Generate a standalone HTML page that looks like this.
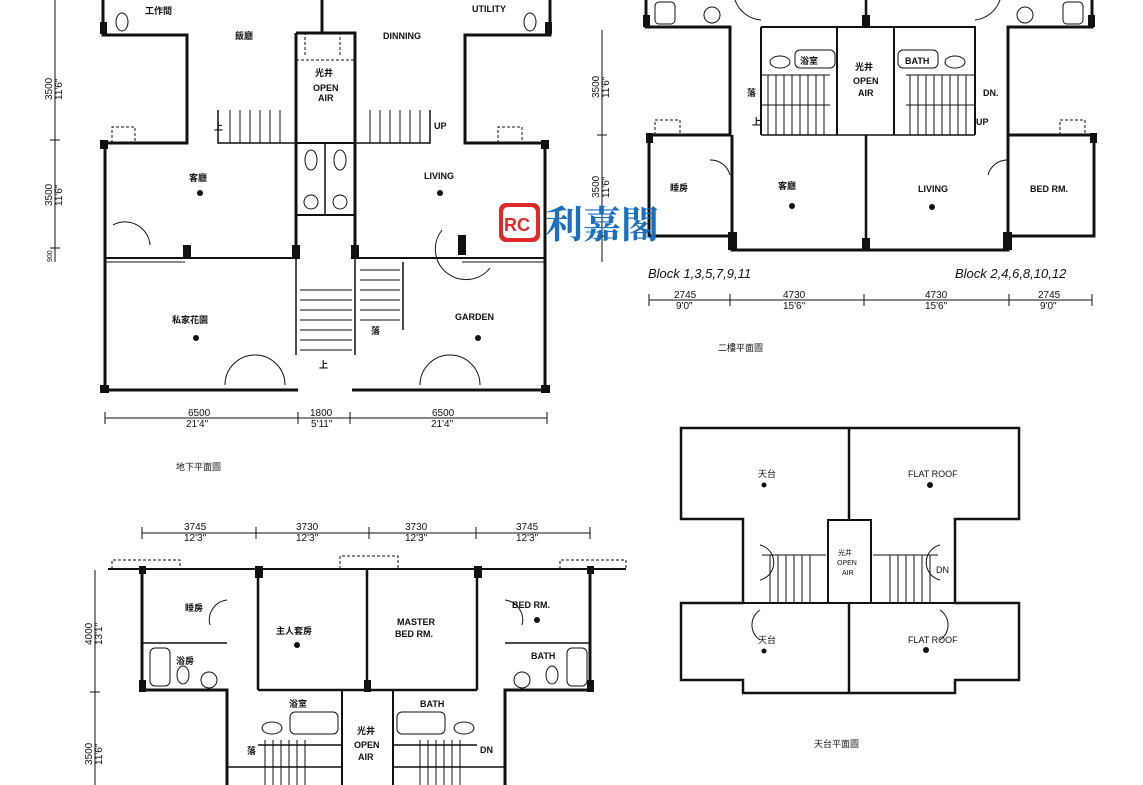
<!DOCTYPE html>
<html><head><meta charset="utf-8"><style>
html,body{margin:0;padding:0;background:#fff;}
svg{display:block;}
text{font-family:"Liberation Sans","Noto Sans CJK TC",sans-serif;fill:#111;}
.l{font-size:9px;}
.d{font-size:10px;}
</style></head><body>
<svg width="1143" height="785" viewBox="0 0 1143 785" xmlns="http://www.w3.org/2000/svg">
<rect width="1143" height="785" fill="#fff"/>
<g stroke="#111" fill="none" stroke-width="3">
<path d="M103 0 V35 H187 V143 H105 V390 H298"/>
<path d="M550 0 V35 H465 V143 H545 V390 H352"/>
<path d="M296 33 H355 V258 M296 33 V258"/>
<path d="M322 0 V33"/>
<path d="M105 258 H296 M355 258 H545" stroke-width="2"/>
<path d="M105 262 H185 M462 262 H545" stroke-width="1"/>
<path d="M296 143 H355 M296 215 H355" stroke-width="2"/>
<path d="M325 143 V215" stroke-width="1.5"/>
<path d="M218 110 V143 H296 M355 143 H430 V110" stroke-width="1.5"/>
<path d="M296 258 V355 M355 258 V355 M403 262 V330" stroke-width="1.5"/>
<path d="M646 0 V27 H730 V135 H649 V236 H732"/>
<path d="M1092 0 V27 H1008 V135 H1094 V236 H1008"/>
<path d="M732 135 V250 H1008 V135" />
<path d="M761 27 H975 V135 M761 27 V135" stroke-width="2"/>
<path d="M837 27 V135 M894 27 V135" stroke-width="2"/>
<path d="M866 0 V27 M866 135 V250" stroke-width="2.5"/>
<path d="M761 135 H975" stroke-width="1.5"/>
<path d="M108 569 H626" stroke-width="2"/>
<path d="M142 569 V690 H227 V785 M590 569 V690 H505 V785"/>
<path d="M258 569 V690 M367 569 V690 M477 569 V690 M258 690 H477" stroke-width="2.5"/>
<path d="M142 643 H227 M505 643 H590" stroke-width="1.5"/>
<path d="M342 690 V785 M393 690 V785" stroke-width="2"/>
<path d="M258 745 H342 M393 745 H477 M227 767 H342 M393 767 H505" stroke-width="1.5"/>
<path d="M681 428 H1019 V519 H955 V603 H1019 V680 H955 V693 H743 V680 H681 V603 H743 V519 H681 Z" stroke-width="2.5"/>
<path d="M849 428 V520 M849 603 V693" stroke-width="2.5"/>
<path d="M828 520 H871 V603 H828 Z" stroke-width="2"/>
<path d="M743 603 H955" stroke-width="2"/>
</g>
<!-- columns -->
<g fill="#111">
<rect x="100" y="140" width="8" height="9"/><rect x="541" y="140" width="8" height="9"/>
<rect x="100" y="385" width="9" height="8"/><rect x="541" y="385" width="9" height="8"/>
<rect x="100" y="22" width="7" height="12"/><rect x="545" y="22" width="7" height="12"/>
<rect x="292" y="245" width="8" height="14"/><rect x="351" y="245" width="8" height="14"/>
<rect x="183" y="245" width="8" height="14"/><rect x="458" y="235" width="8" height="20"/>
<rect x="643" y="15" width="7" height="12"/><rect x="1088" y="15" width="7" height="12"/>
<rect x="646" y="133" width="7" height="10"/><rect x="1090" y="133" width="7" height="10"/>
<rect x="728" y="232" width="9" height="18"/><rect x="1003" y="232" width="9" height="18"/>
<rect x="862" y="238" width="8" height="12"/><rect x="862" y="15" width="8" height="12"/>
<rect x="139" y="566" width="7" height="8"/><rect x="587" y="566" width="7" height="8"/>
<rect x="139" y="680" width="7" height="12"/><rect x="587" y="680" width="7" height="12"/>
<rect x="255" y="566" width="8" height="12"/><rect x="474" y="566" width="8" height="12"/>
<rect x="364" y="680" width="7" height="12"/>
</g>
<g stroke="#111" stroke-width="1" fill="none">
<path d="M230 110 V143 M240 110 V143 M250 110 V143 M260 110 V143 M270 110 V143 M280 110 V143"/>
<path d="M370 110 V143 M380 110 V143 M390 110 V143 M400 110 V143 M410 110 V143 M420 110 V143"/>
<path d="M300 290 H352 M300 300 H352 M300 310 H352 M300 320 H352 M300 330 H352 M300 340 H352 M300 350 H352"/>
<path d="M360 270 H400 M360 280 H400 M360 290 H400 M360 300 H400 M360 310 H400 M360 320 H400"/>
<path d="M768 75 V135 M776 75 V135 M784 75 V135 M792 75 V135 M800 75 V135 M808 75 V135 M816 75 V135 M824 75 V135"/>
<path d="M910 75 V135 M918 75 V135 M926 75 V135 M934 75 V135 M942 75 V135 M950 75 V135 M958 75 V135 M966 75 V135"/>
<path d="M762 75 H830 M906 75 H975 M762 105 H830 M906 105 H975"/>
<path d="M265 740 V785 M273 740 V785 M281 740 V785 M289 740 V785 M297 740 V785 M305 740 V785"/>
<path d="M420 740 V785 M428 740 V785 M436 740 V785 M444 740 V785 M452 740 V785 M460 740 V785"/>
<path d="M770 555 V603 M778 555 V603 M786 555 V603 M794 555 V603 M802 555 V603 M810 555 V603 M762 555 H826"/>
<path d="M890 555 V603 M898 555 V603 M906 555 V603 M914 555 V603 M922 555 V603 M930 555 V603 M873 555 H938"/>
<path d="M225 385 A30 30 0 0 1 285 385 M420 385 A30 30 0 0 1 480 385 M113 225 A25 25 0 0 1 150 245 M442 230 A30 30 0 0 0 490 268"/>
<path d="M710 160 A20 20 0 0 1 730 175 M1008 160 A20 20 0 0 0 988 175"/>
<path d="M227 600 A20 20 0 0 0 210 625 M505 600 A20 20 0 0 1 522 625"/>
<path d="M760 545 A18 18 0 0 1 760 580 M940 545 A18 18 0 0 0 940 580 M760 610 A18 18 0 0 0 760 640 M940 610 A18 18 0 0 1 940 640"/>
<path d="M761 20 A30 30 0 0 1 735 0 M975 20 A30 30 0 0 0 1000 0"/>
<path d="M112 143 V127 H135 V143 M498 143 V127 H522 V143 M655 135 V120 H680 V135 M1060 135 V120 H1085 V135 M112 569 V560 H180 V569 M340 569 V556 H398 V569 M560 569 V560 H626 V569 M305 55 V33 M340 55 V33 M296 60 H355" stroke-dasharray="3,2"/>
<!-- fixtures -->
<ellipse cx="311" cy="160" rx="6" ry="10"/><ellipse cx="340" cy="160" rx="6" ry="10"/>
<circle cx="311" cy="202" r="7"/><circle cx="340" cy="202" r="7"/>
<ellipse cx="122" cy="22" rx="6" ry="9"/><ellipse cx="530" cy="22" rx="6" ry="9"/>
<rect x="655" y="2" width="20" height="22" rx="4"/><circle cx="712" cy="15" r="8"/>
<rect x="1063" y="2" width="20" height="22" rx="4"/><circle cx="1025" cy="15" r="8"/>
<rect x="795" y="50" width="40" height="18" rx="5"/><rect x="898" y="50" width="40" height="18" rx="5"/>
<ellipse cx="780" cy="62" rx="10" ry="6"/><ellipse cx="955" cy="62" rx="10" ry="6"/>
<rect x="150" y="648" width="20" height="38" rx="5"/><ellipse cx="183" cy="675" rx="6" ry="9"/><circle cx="209" cy="680" r="8"/>
<rect x="567" y="648" width="20" height="38" rx="5"/><ellipse cx="552" cy="675" rx="6" ry="9"/><circle cx="522" cy="680" r="8"/>
<rect x="290" y="712" width="48" height="22" rx="5"/><ellipse cx="272" cy="728" rx="10" ry="6"/>
<rect x="397" y="712" width="48" height="22" rx="5"/><ellipse cx="464" cy="728" rx="10" ry="6"/>
</g>
<g stroke="#111" stroke-width="1" fill="none">
<path d="M105 418 H547 M105 412 V424 M298 412 V424 M350 412 V424 M547 412 V424"/>
<path d="M649 300 H1092 M649 294 V306 M730 294 V306 M864 294 V306 M1009 294 V306 M1092 294 V306"/>
<path d="M142 533 H590 M142 527 V539 M256 527 V539 M369 527 V539 M476 527 V539 M590 527 V539"/>
<path d="M55 0 V262 M50 140 H60 M50 248 H60 M602 30 V262 M597 135 H607 M597 236 H607 M95 570 V785 M90 692 H100"/>
</g>
<g font-weight="bold">
<text class="l" x="145" y="14">工作間</text>
<text class="l" x="235" y="39">飯廳</text>
<text class="l" x="383" y="39">DINNING</text>
<text class="l" x="472" y="12">UTILITY</text>
<text class="l" x="315" y="76">光井</text>
<text class="l" x="313" y="91">OPEN</text>
<text class="l" x="318" y="101">AIR</text>
<text class="l" x="214" y="130">上</text>
<text class="l" x="434" y="129">UP</text>
<text class="l" x="189" y="181">客廳</text>
<text class="l" x="424" y="179">LIVING</text>
<text class="l" x="172" y="323">私家花園</text>
<text class="l" x="455" y="320">GARDEN</text>
<text class="l" x="371" y="334">落</text>
<text class="l" x="319" y="368">上</text>
</g>
<text class="d" x="188" y="416">6500</text><text class="d" x="186" y="427">21'4"</text>
<text class="d" x="310" y="416">1800</text><text class="d" x="311" y="427">5'11"</text>
<text class="d" x="432" y="416">6500</text><text class="d" x="431" y="427">21'4"</text>
<text class="l" x="176" y="470">地下平面圖</text>
<g font-size="10"><text transform="translate(52,100) rotate(-90)">3500</text><text transform="translate(62,100) rotate(-90)">11'6"</text>
<text transform="translate(52,206) rotate(-90)">3500</text><text transform="translate(62,206) rotate(-90)">11'6"</text>
<text transform="translate(52,262) rotate(-90)" font-size="7">900</text>
<text transform="translate(599,98) rotate(-90)">3500</text><text transform="translate(609,98) rotate(-90)">11'6"</text>
<text transform="translate(599,198) rotate(-90)">3500</text><text transform="translate(609,198) rotate(-90)">11'6"</text>
<text transform="translate(92,645) rotate(-90)">4000</text><text transform="translate(102,645) rotate(-90)">13'1"</text>
<text transform="translate(92,765) rotate(-90)">3500</text><text transform="translate(102,765) rotate(-90)">11'6"</text></g>
<g font-weight="bold">
<text class="l" x="800" y="64">浴室</text>
<text class="l" x="905" y="64">BATH</text>
<text class="l" x="855" y="70">光井</text>
<text class="l" x="853" y="84">OPEN</text>
<text class="l" x="858" y="96">AIR</text>
<text class="l" x="747" y="96">落</text>
<text class="l" x="752" y="125">上</text>
<text class="l" x="983" y="96">DN.</text>
<text class="l" x="976" y="125">UP</text>
<text class="l" x="670" y="191">睡房</text>
<text class="l" x="778" y="189">客廳</text>
<text class="l" x="918" y="192">LIVING</text>
<text class="l" x="1030" y="192">BED RM.</text>
</g>
<circle cx="792" cy="206" r="3" fill="#111"/><circle cx="932" cy="207" r="3" fill="#111"/>
<text x="648" y="278" font-size="13" font-style="italic">Block 1,3,5,7,9,11</text>
<text x="955" y="278" font-size="13" font-style="italic">Block 2,4,6,8,10,12</text>
<text class="d" x="674" y="298">2745</text><text class="d" x="676" y="309">9'0"</text>
<text class="d" x="783" y="298">4730</text><text class="d" x="783" y="309">15'6"</text>
<text class="d" x="925" y="298">4730</text><text class="d" x="925" y="309">15'6"</text>
<text class="d" x="1038" y="298">2745</text><text class="d" x="1040" y="309">9'0"</text>
<text class="l" x="718" y="351">二樓平面圖</text>
<text class="d" x="184" y="530">3745</text><text class="d" x="184" y="541">12'3"</text>
<text class="d" x="296" y="530">3730</text><text class="d" x="296" y="541">12'3"</text>
<text class="d" x="405" y="530">3730</text><text class="d" x="405" y="541">12'3"</text>
<text class="d" x="516" y="530">3745</text><text class="d" x="516" y="541">12'3"</text>
<g font-weight="bold">
<text class="l" x="185" y="611">睡房</text>
<text class="l" x="276" y="634">主人套房</text>
<text class="l" x="397" y="625">MASTER</text>
<text class="l" x="395" y="637">BED RM.</text>
<text class="l" x="512" y="608">BED RM.</text>
<text class="l" x="176" y="664">浴房</text>
<text class="l" x="289" y="707">浴室</text>
<text class="l" x="420" y="707">BATH</text>
<text class="l" x="531" y="659">BATH</text>
<text class="l" x="357" y="734">光井</text>
<text class="l" x="354" y="748">OPEN</text>
<text class="l" x="358" y="760">AIR</text>
<text class="l" x="247" y="754">落</text>
<text class="l" x="480" y="753">DN</text>
</g>
<circle cx="297" cy="645" r="3" fill="#111"/><circle cx="537" cy="620" r="3" fill="#111"/>
<circle cx="200" cy="193" r="3" fill="#111"/><circle cx="440" cy="193" r="3" fill="#111"/>
<circle cx="196" cy="338" r="3" fill="#111"/><circle cx="478" cy="338" r="3" fill="#111"/>
<text class="l" x="758" y="477">天台</text>
<text class="l" x="908" y="477">FLAT ROOF</text>
<circle cx="764" cy="485" r="2.5" fill="#111"/>
<circle cx="930" cy="485" r="3" fill="#111"/>
<text class="l" x="758" y="643">天台</text>
<text class="l" x="908" y="643">FLAT ROOF</text>
<circle cx="764" cy="651" r="2.5" fill="#111"/>
<circle cx="926" cy="650" r="3" fill="#111"/>
<text x="838" y="555" font-size="7">光井</text><text x="837" y="565" font-size="7">OPEN</text><text x="842" y="575" font-size="7">AIR</text>
<text class="l" x="936" y="573">DN</text>
<text class="l" x="814" y="747">天台平面圖</text>
<rect x="499" y="203" width="41" height="39" rx="7" fill="#e02a2a"/>
<rect x="503" y="207" width="33" height="31" rx="5" fill="#fff"/>
<text x="504" y="231" font-size="18" font-weight="bold" style="fill:#e02a2a">RC</text>
<text x="545" y="238" font-size="38" font-weight="bold" style="fill:#1a6fbf;font-family:'Noto Serif CJK SC',serif">利嘉閣</text>
</svg>
</body></html>
